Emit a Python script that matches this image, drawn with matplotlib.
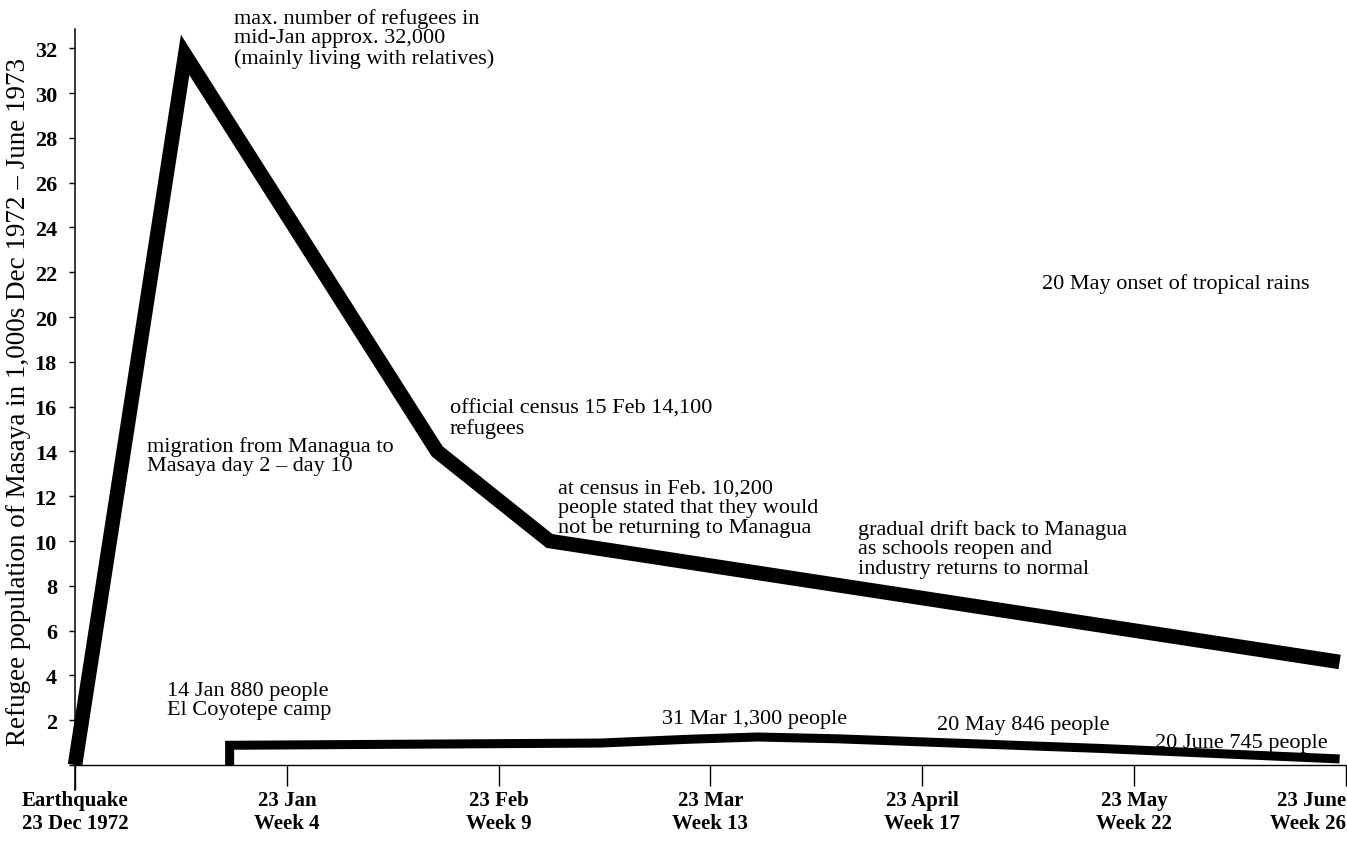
import matplotlib
matplotlib.use("Agg")
import matplotlib.pyplot as plt

# ---- data (x in months after 23 Dec 1972; y in thousands) ----
main_months = [0.0, 0.52, 1.71, 2.24, 5.97]
main_refugees = [0.0, 31.7, 14.0, 10.0, 4.6]

camp_months = [0.73, 0.73, 2.48, 2.9, 3.22, 3.6, 4.84, 5.97]
camp_refugees = [0.0, 0.88, 0.98, 1.15, 1.25, 1.17, 0.74, 0.27]

tick_pos = [0, 1, 2, 3, 4, 5, 6]
tick_labels = ["Earthquake\n23 Dec 1972", "23 Jan\nWeek 4", "23 Feb\nWeek 9",
               "23 Mar\nWeek 13", "23 April\nWeek 17", "23 May\nWeek 22",
               "23 June\nWeek 26"]
y_ticks = list(range(2, 33, 2))

SERIF = ["Liberation Serif", "DejaVu Serif"]
W, H = 1347, 845

fig = plt.figure(figsize=(W / 100, H / 100), dpi=100)
left_px, right_px, top_px, base_px = 75, 1347, 30, 766
ax = fig.add_axes([left_px / W, 1 - base_px / H, (right_px - left_px) / W, (base_px - top_px) / H])
ax.set_xlim(0, (right_px - left_px) / 211.83)
ax.set_ylim(0, (base_px - top_px) / 22.4)

for s in ax.spines.values():
    s.set_visible(False)

# axes lines
ax.plot([0, 0], [-1.1, 32.86], color="black", lw=1.1, clip_on=False)
ax.plot([0, 6.0], [0, 0], color="black", lw=1.0, clip_on=False)

ax.plot(main_months, main_refugees, color="black", lw=10.5,
        solid_joinstyle="miter", solid_capstyle="butt", clip_on=False)
ax.plot(camp_months, camp_refugees, color="black", lw=6.5,
        solid_joinstyle="miter", solid_capstyle="butt", clip_on=False)

ax.set_xticks(tick_pos)
ax.set_xticklabels(tick_labels, fontfamily=SERIF, fontweight="bold", fontsize=15,
                   linespacing=1.2)
ax.tick_params(axis="x", direction="out", length=15, width=1.0, pad=3)
lbls = ax.get_xticklabels()
lbls[-1].set_horizontalalignment("right")
ax.xaxis.get_major_ticks()[0].tick1line.set_markersize(17)

ax.set_yticks([0] + y_ticks)
ax.set_yticklabels([""] + [str(v) for v in y_ticks], fontfamily=SERIF,
                   fontweight="bold", fontsize=16)
ax.tick_params(axis="y", direction="out", length=4, width=1.0, pad=9)

ax.set_ylabel("Refugee population of Masaya in 1,000s Dec 1972 \u2013 June 1973",
              fontfamily=SERIF, fontsize=19.5)
ax.yaxis.set_label_coords((31 - left_px) / (right_px - left_px), 0.495)

def note(px, py, text):
    fig.text(px / W, 1 - py / H, text, fontfamily=SERIF, fontsize=16,
             ha="left", va="top", linespacing=1.03)

note(234, 9, "max. number of refugees in\nmid-Jan approx. 32,000\n(mainly living with relatives)")
note(147, 437, "migration from Managua to\nMasaya day 2 \u2013 day 10")
note(450, 400, "official census 15 Feb 14,100\nrefugees")
note(558, 480, "at census in Feb. 10,200\npeople stated that they would\nnot be returning to Managua")
note(858, 520, "gradual drift back to Managua\nas schools reopen and\nindustry returns to normal")
note(1042, 274, "20 May onset of tropical rains")
note(167, 682, "14 Jan 880 people\nEl Coyotepe camp")
note(662, 710, "31 Mar 1,300 people")
note(937, 716, "20 May 846 people")
note(1155, 734, "20 June 745 people")

fig.savefig("out.png", dpi=100)
